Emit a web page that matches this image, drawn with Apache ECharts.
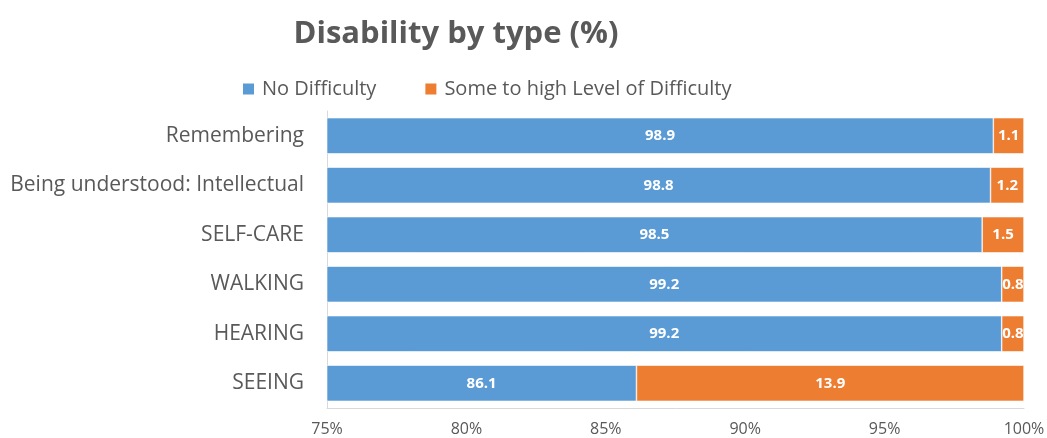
<!DOCTYPE html>
<html>
<head>
<meta charset="utf-8">
<script src="https://cdn.jsdelivr.net/npm/echarts@6/dist/echarts.min.js"></script>
<style>
  html, body { margin: 0; padding: 0; background: #fff; }
  #chart { width: 1047px; height: 438px; }
</style>
</head>
<body>
<div id="chart"></div>
<script>
// Disability types, listed bottom to top as the category axis draws them
const categories = ['SEEING', 'HEARING', 'WALKING', 'SELF-CARE', 'Being understood: Intellectual', 'Remembering'];
const noDifficulty = [86.1, 99.2, 99.2, 98.5, 98.8, 98.9];
const someDifficulty = [13.9, 0.8, 0.8, 1.5, 1.2, 1.1];
const seriesNames = ['No Difficulty', 'Some to high Level of Difficulty'];

const FONT = '"Open Sans", Lato, sans-serif';
const TEXT = '#595959';

const chart = echarts.init(document.getElementById('chart'), null, { renderer: 'canvas' });

const barLabel = {
  show: true,
  position: 'inside',
  color: '#fff',
  fontFamily: FONT,
  fontWeight: 'bold',
  fontSize: 15,
  formatter: p => p.value.toFixed(1)
};

chart.setOption({
  animation: false,
  backgroundColor: '#fff',
  title: {
    text: 'Disability by type (%)',
    left: 451,
    top: 14,
    textAlign: 'center',
    textStyle: { fontFamily: FONT, fontWeight: 'bold', fontSize: 31, color: TEXT }
  },
  legend: {
    data: seriesNames,
    top: 74,
    left: 236,
    itemWidth: 13,
    itemHeight: 13,
    itemGap: 47,
    icon: 'rect',
    textStyle: { fontFamily: FONT, fontSize: 20, color: TEXT, padding: [0, 0, 0, 2] }
  },
  grid: {
    left: 327, right: 23, top: 111, bottom: 30,
    containLabel: false,
    outerBoundsMode: 'none'
  },
  xAxis: {
    type: 'value',
    min: 75,
    max: 100,
    interval: 5,
    axisLine: { show: true, lineStyle: { color: '#d9d9d9', width: 1 } },
    axisTick: { show: false },
    splitLine: { show: false },
    axisLabel: {
      formatter: v => v + '%',
      fontFamily: FONT, fontSize: 16, color: TEXT, margin: 13
    }
  },
  yAxis: {
    type: 'category',
    data: categories,
    axisLine: { show: true, lineStyle: { color: '#d9d9d9', width: 1 } },
    axisTick: { show: false },
    axisLabel: { fontFamily: FONT, fontSize: 21, color: TEXT, margin: 23 }
  },
  series: [
    {
      name: seriesNames[0],
      type: 'bar',
      stack: 'total',
      data: noDifficulty,
      barWidth: '73%',
      clip: true,
      itemStyle: { color: '#5B9BD5', borderColor: '#fff', borderWidth: 0.6 },
      label: barLabel
    },
    {
      name: seriesNames[1],
      type: 'bar',
      stack: 'total',
      data: someDifficulty,
      barWidth: '73%',
      clip: true,
      itemStyle: { color: '#ED7D31', borderColor: '#fff', borderWidth: 0.6 },
      label: barLabel
    }
  ]
});
</script>
</body>
</html>
